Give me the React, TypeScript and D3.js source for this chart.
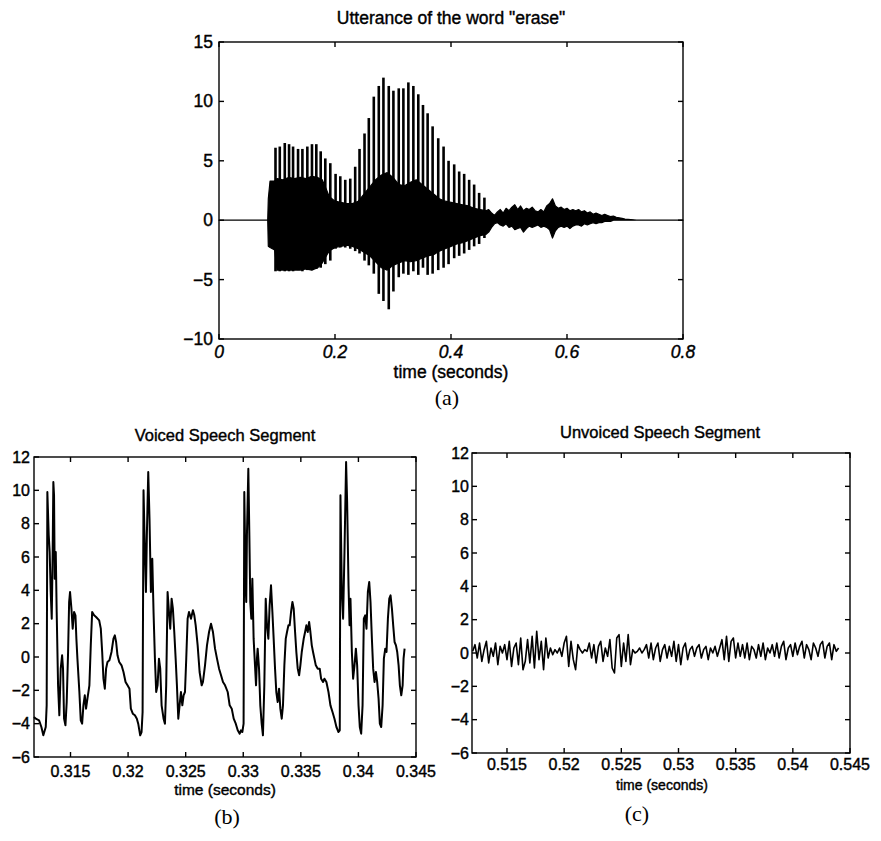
import React from "react";
import * as d3 from "d3";

// (a) the whole utterance ------------------------------------------------
const uttTicksX = [0, 0.2, 0.4, 0.6, 0.8];
const uttTicksY = [-10, -5, 0, 5, 10, 15];

// [time, upper, lower] of the dense part of the trace
const uttBody: [number, number, number][] = [
  [0, 0, 0], [0.084, 0, 0], [0.085, 1.8, -2.2], [0.088, 3.3, -2.3], [0.096, 3.3, -2.5],
  [0.1, 3.5, -4.2], [0.11, 3.4, -4.2], [0.12, 3.6, -4.2], [0.13, 3.5, -4.2], [0.14, 3.6, -4.2],
  [0.15, 3.5, -4.1], [0.16, 3.7, -4.2], [0.17, 3.6, -4.0], [0.178, 3.4, -3.6], [0.185, 2.6, -3.0],
  [0.19, 2.0, -2.6], [0.2, 1.6, -2.3], [0.21, 1.5, -2.2], [0.22, 1.4, -2.1], [0.23, 1.4, -2.2],
  [0.24, 1.6, -2.4], [0.25, 2.2, -2.7], [0.26, 2.8, -3.0], [0.27, 3.4, -3.5], [0.28, 3.8, -4.0],
  [0.29, 4.0, -4.2], [0.3, 3.6, -3.8], [0.31, 3.0, -3.6], [0.32, 2.9, -3.4], [0.33, 3.2, -3.5],
  [0.34, 3.4, -3.4], [0.35, 3.0, -3.2], [0.36, 2.6, -3.0], [0.37, 2.2, -2.9], [0.38, 1.8, -2.6],
  [0.39, 1.6, -2.4], [0.4, 1.5, -2.2], [0.41, 1.4, -2.0], [0.42, 1.3, -1.9], [0.43, 1.2, -1.7],
  [0.44, 1.0, -1.5], [0.45, 0.9, -1.3], [0.46, 0.8, -1.2], [0.465, 0.9, -1.0],
  [0.47, 0.6, -0.6], [0.475, 0.4, -0.3], [0.48, 0.7, -0.2], [0.485, 0.9, -0.4], [0.49, 0.6, -0.5],
  [0.495, 1.0, -0.3], [0.5, 0.8, -0.6], [0.505, 1.1, -0.5], [0.51, 1.3, -0.8], [0.515, 0.9, -0.7],
  [0.52, 1.2, -0.6], [0.525, 0.8, -1.0], [0.53, 1.0, -0.7], [0.535, 0.9, -0.5], [0.54, 1.1, -0.6],
  [0.545, 0.8, -0.5], [0.55, 0.7, -0.4], [0.555, 0.9, -0.6], [0.56, 0.7, -0.5], [0.565, 1.2, -0.6],
  [0.57, 1.4, -0.8], [0.575, 1.8, -1.5], [0.58, 1.2, -0.9], [0.585, 1.0, -0.6], [0.59, 1.1, -0.5],
  [0.595, 0.9, -0.6], [0.6, 1.0, -0.5], [0.605, 0.8, -0.7], [0.61, 0.9, -0.5], [0.615, 0.8, -0.4],
  [0.62, 0.9, -0.4], [0.625, 0.7, -0.5], [0.63, 0.8, -0.3], [0.635, 0.6, -0.4], [0.64, 0.7, -0.3],
  [0.645, 0.5, -0.2], [0.65, 0.6, -0.3], [0.655, 0.5, -0.2], [0.66, 0.4, -0.2], [0.665, 0.5, -0.1],
  [0.67, 0.4, -0.1], [0.675, 0.3, -0.1], [0.68, 0.35, 0], [0.685, 0.25, 0], [0.69, 0.2, 0],
  [0.695, 0.15, 0], [0.7, 0.1, 0], [0.71, 0.05, 0], [0.72, 0, 0], [0.8, 0, 0],
];

// [time, peak, trough] of each pitch pulse
const uttPulses: [number, number, number][] = [
  [0.0974, 6.1, -4.3], [0.1048, 6.2, -4.3], [0.1134, 6.5, -4.3], [0.1208, 6.4, -4.3],
  [0.1277, 6.2, -4.3], [0.1363, 6.0, -4.2], [0.1438, 6.0, -4.3], [0.1523, 6.2, -4.2],
  [0.1603, 6.4, -4.2], [0.1678, 6.4, -4.1], [0.1753, 5.8, -4.0], [0.1833, 5.2, -3.7],
  [0.1919, 4.8, -3.4], [0.201, 3.9, -2.4], [0.2091, 3.7, -2.3], [0.2177, 3.4, -2.3],
  [0.2263, 3.5, -2.4], [0.2348, 4.5, -2.6], [0.2423, 6.0, -2.8], [0.2509, 7.3, -3.4],
  [0.2583, 8.6, -3.8], [0.2669, 10.4, -4.5], [0.2755, 11.3, -6.2], [0.2835, 12.0, -6.8],
  [0.2927, 11.3, -7.5], [0.3007, 10.9, -6.0], [0.3099, 11.1, -4.8], [0.3179, 11.1, -4.5],
  [0.3265, 11.6, -4.6], [0.3351, 11.3, -4.3], [0.3436, 10.6, -4.6], [0.3517, 9.7, -4.0],
  [0.3597, 9.0, -4.6], [0.3683, 7.9, -4.5], [0.378, 6.9, -4.2], [0.3872, 6.2, -4.0],
  [0.3958, 5.0, -3.7], [0.4055, 4.7, -3.2], [0.4141, 4.1, -3.0], [0.4227, 3.9, -2.8],
  [0.4313, 3.4, -2.5], [0.4399, 3.0, -2.2], [0.4485, 2.3, -2.0], [0.4576, 1.9, -1.5],
];

// (b) voiced segment ------------------------------------------------------
const voicedTicksX = [0.315, 0.32, 0.325, 0.33, 0.335, 0.34, 0.345];
const segTicksY = [-6, -4, -2, 0, 2, 4, 6, 8, 10, 12];

// [time, amplitude]
const voiced: [number, number][] = [
  [0.31183, -3.6], [0.31198, -3.7], [0.31227, -3.8], [0.31247, -4.2], [0.31264, -4.7], [0.31285, -4.2],
  [0.31293, -2.9], [0.31299, 9.9], [0.31311, 7.3], [0.31319, 6.3], [0.31328, 3.9], [0.31337, 2.3],
  [0.31345, 6.3], [0.31351, 10.5], [0.31357, 9.7], [0.31363, 4.7], [0.31372, 6.3], [0.3138, 2.7],
  [0.31392, -1.7], [0.31403, -3.5], [0.31415, -0.7], [0.31427, 0.1], [0.31435, -0.7], [0.31444, -3.7],
  [0.31456, -4.1], [0.31467, -2.7], [0.31479, 0.3], [0.31488, 3.3], [0.31496, 3.9], [0.31508, 2.9],
  [0.31519, 1.7], [0.31531, 2.7], [0.31543, 2.5], [0.31551, 1.1], [0.3156, -0.1], [0.31577, -2.1],
  [0.31589, -3.8], [0.31601, -4.0], [0.31612, -2.9], [0.31624, -2.3], [0.31635, -3.1], [0.31647, -2.5],
  [0.31664, -1.7], [0.31676, 0.7], [0.31688, 2.7], [0.31705, 2.5], [0.31722, 2.4], [0.31749, 2.2],
  [0.31763, 1.7], [0.31775, 0.3], [0.31786, -1.3], [0.31798, -1.9], [0.31809, -0.7], [0.31821, -0.3],
  [0.31838, -0.2], [0.31856, 0.3], [0.31873, 1.1], [0.31885, 1.3], [0.31896, 0.9], [0.31908, 0.1],
  [0.31923, -0.3], [0.31943, -0.5], [0.3196, -0.9], [0.31978, -1.5], [0.31995, -1.7], [0.32012, -1.9],
  [0.32024, -3.1], [0.32041, -3.4], [0.32059, -3.5], [0.32076, -3.7], [0.32088, -4.0], [0.32105, -4.7],
  [0.32117, -4.5], [0.32126, -3.3],
  [0.32134, 10.0], [0.32146, 6.3], [0.32155, 3.9], [0.32163, 7.3], [0.32175, 11.1], [0.32186, 8.3],
  [0.32198, 3.9], [0.3221, 5.9], [0.32221, 2.7], [0.32233, -0.1], [0.32244, -2.1], [0.32256, -1.7],
  [0.32268, -0.1], [0.32279, -0.7], [0.32291, -2.9], [0.32308, -3.7], [0.3232, -4.0], [0.32331, -1.7],
  [0.32343, 3.9], [0.32355, 2.7], [0.32366, 1.7], [0.32378, 3.5], [0.32389, 2.9], [0.32401, 1.5],
  [0.32413, -0.1], [0.32424, -1.7], [0.32436, -3.7], [0.32447, -2.9], [0.32459, -2.1], [0.32471, -2.9],
  [0.32482, -2.3], [0.32494, -2.1], [0.32505, -0.1], [0.32517, 2.3], [0.32529, 2.7], [0.32546, 2.3],
  [0.32563, 2.8], [0.32575, 2.5], [0.32587, 1.9], [0.32604, 0.7], [0.32621, -0.9], [0.32639, -1.7],
  [0.3265, -1.5], [0.32668, -0.5], [0.32685, 0.7], [0.32703, 1.5], [0.3272, 2.0], [0.32737, 1.5],
  [0.32755, 0.5], [0.32772, -0.1], [0.3279, -0.7], [0.32807, -1.1], [0.32824, -1.5], [0.32842, -1.7],
  [0.32865, -2.1], [0.32882, -2.9], [0.329, -3.1], [0.32917, -3.7], [0.32935, -4.0], [0.32952, -4.4],
  [0.32969, -4.6], [0.3298, -4.4], [0.32992, -4.5], [0.33003, -4.0],
  [0.33009, 9.9], [0.33021, 4.3], [0.33026, 3.3], [0.33032, 7.3], [0.33044, 11.3], [0.33053, 7.3],
  [0.33061, 3.3], [0.3307, 2.3], [0.33079, 4.7], [0.3309, 1.1], [0.33102, -0.5], [0.33111, -1.7],
  [0.33119, -0.1], [0.33125, 0.5], [0.33137, -0.7], [0.33148, -2.9], [0.3316, -4.0], [0.33171, -4.7],
  [0.33183, -1.7], [0.33195, 3.5], [0.33206, 1.9], [0.33218, 1.1], [0.33229, 3.1], [0.33241, 4.3],
  [0.33253, 2.7], [0.33264, 1.1], [0.33276, -0.7], [0.33287, -2.1], [0.33299, -2.7], [0.33311, -1.9],
  [0.33322, -3.1], [0.33334, -3.7], [0.33345, -2.9], [0.33357, -0.5], [0.33369, 1.1], [0.3338, 1.5],
  [0.33392, 1.9], [0.33403, 1.9], [0.33415, 2.7], [0.33427, 3.3], [0.33438, 2.9], [0.3345, 1.5],
  [0.33461, 0.3], [0.33473, -0.7], [0.33485, -1.1], [0.33496, -0.5], [0.33508, 0.3], [0.33525, 1.1],
  [0.33537, 1.5], [0.33548, 1.9], [0.3356, 1.5], [0.33572, 2.1], [0.33583, 1.5], [0.33595, 0.7],
  [0.33606, 0.3], [0.33618, -0.1], [0.3363, -0.5], [0.33647, -0.7], [0.33664, -0.7], [0.33676, -1.3],
  [0.33693, -1.5], [0.33705, -1.3], [0.33722, -1.5], [0.3374, -2.1], [0.33757, -2.9], [0.33775, -3.3],
  [0.33792, -3.7], [0.33809, -4.2], [0.33827, -4.5], [0.33838, -4.4],
  [0.33844, 9.7], [0.33856, 3.9], [0.33867, 2.3], [0.33879, 6.3], [0.33893, 11.7], [0.33902, 9.3],
  [0.33914, 4.3], [0.33923, 1.9], [0.33931, 3.5], [0.33943, 0.3], [0.33954, -1.3], [0.33966, -0.5],
  [0.33978, 0.5], [0.33989, -0.5], [0.34001, -2.9], [0.34012, -4.2], [0.34024, -4.6], [0.34036, -2.9],
  [0.34047, 2.3], [0.34059, 2.5], [0.3407, 1.7], [0.34082, 3.9], [0.34094, 4.5], [0.34105, 3.3],
  [0.34117, 1.1], [0.34128, -0.7], [0.3414, -1.5], [0.34152, -0.9], [0.34163, -1.5], [0.34175, -2.5],
  [0.34186, -4.0], [0.34198, -4.2], [0.3421, -2.9], [0.34221, -0.1], [0.34233, 0.5], [0.34244, 0.3],
  [0.34256, 2.3], [0.34268, 3.5], [0.34279, 3.7], [0.34291, 2.9], [0.34302, 1.9], [0.34314, 0.9],
  [0.34326, 0.7], [0.34337, 0.3], [0.34349, -0.5], [0.3436, -1.7], [0.34372, -2.3], [0.34384, -1.7],
  [0.34392, -0.1], [0.34401, 0.5],
];

// (c) unvoiced segment ----------------------------------------------------
const unvoicedTicksX = [0.515, 0.52, 0.525, 0.53, 0.535, 0.54, 0.545];
const unvoicedStart = 0.512; // seconds, first sample
const unvoicedStep = 0.0002; // seconds between samples
const unvoiced = [
  0.1, 0.5, -0.3, 0.6, -0.5, 0.2, 0.7, -0.6, 0.3, -0.2, 0.6, -0.7, 0.4, 0.0, 0.5, -0.4, 0.7, -0.8, 0.3, 0.6,
  -0.7, 0.9, -1.0, -0.5, 0.8, -0.6, 1.0, -0.9, 1.3, -0.4, 0.7, -1.0, 0.9, -0.3,
  0.3, -0.1, 0.2, 0.0, 0.3, -0.2,
  0.6, 1.0, -0.8, 0.7, -0.4, -1.0, 0.5,
  0.2, 0.0, 0.2, 0.1,
  0.6, -0.3, 0.5, -0.6, 0.4, 0.7, -0.5, 0.3, -0.2,
  0.8, -0.9, -1.2, 0.9, 1.1, -0.8, 0.6, -0.5, 1.1, -0.7,
  0.2, 0.0, 0.1, 0.3, 0.0, 0.2,
  0.5, -0.3, 0.6, -0.4, 0.3, 0.6, -0.5, 0.2, 0.5, -0.3, 0.4, -0.2,
  0.7, -0.5, 0.5, -0.7, 0.3, 0.6, -0.4, 0.2,
  0.4, -0.2, 0.3, 0.5, -0.3, 0.2, 0.4, -0.4, 0.3, 0.0, 0.4, -0.2, 0.3,
  0.8, -0.4, 1.0, -0.5, 0.7, 0.9, -0.3, 0.6, -0.2,
  0.5, -0.3, 0.6, -0.4, 0.4, 0.2, -0.3, 0.5, -0.2, 0.6, -0.4, 0.3, 0.0,
  0.5, -0.2, 0.6, -0.3, 0.4, 0.7, -0.4, 0.3, 0.5, -0.2, 0.6, -0.1, 0.4, 0.7, -0.3,
  0.5, 0.2, -0.4, 0.6, 0.3, -0.2, 0.5, 0.7, -0.3, 0.4, 0.6, -0.4, 0.5, 0.1, 0.3,
];

const FONT = "'Liberation Sans', Arial, Helvetica, sans-serif";
const SERIF = "'Liberation Serif', 'DejaVu Serif', serif";
// the scanned lettering is heavier than a plain regular face
const INK = { fill: "#000", stroke: "#000", strokeWidth: 0.4 };

const fmt = (v: number) => (v < 0 ? "\u2212" + Math.abs(v) : String(v));

type Scale = d3.ScaleLinear<number, number>;

function Axes(props: {
  x: Scale;
  y: Scale;
  xTicks: number[];
  yTicks: number[];
  fontSize: number;
  xGap: number;
  yGap: number;
  italicX?: boolean;
}) {
  const { x, y, xTicks, yTicks, fontSize, xGap, yGap, italicX } = props;
  const [l, r] = x.range();
  const [b, t] = y.range();
  const tl = 5;
  return (
    <g>
      <g stroke="#000" strokeWidth={1.4} fill="none">
        <rect x={l} y={t} width={r - l} height={b - t} />
        {xTicks.map((v) => (
          <g key={"xt" + v}>
            <line x1={x(v)} x2={x(v)} y1={b} y2={b - tl} />
            <line x1={x(v)} x2={x(v)} y1={t} y2={t + tl} />
          </g>
        ))}
        {yTicks.map((v) => (
          <g key={"yt" + v}>
            <line x1={l} x2={l + tl} y1={y(v)} y2={y(v)} />
            <line x1={r} x2={r - tl} y1={y(v)} y2={y(v)} />
          </g>
        ))}
      </g>
      <g {...INK} fontFamily={FONT} fontSize={fontSize}>
        {xTicks.map((v) => (
          <text
            key={"xl" + v}
            x={x(v)}
            y={b + xGap}
            textAnchor="middle"
            dominantBaseline="central"
            fontStyle={italicX ? "italic" : "normal"}
          >
            {fmt(v)}
          </text>
        ))}
        {yTicks.map((v) => (
          <text key={"yl" + v} x={l - yGap} y={y(v)} textAnchor="end" dominantBaseline="central">
            {fmt(v)}
          </text>
        ))}
      </g>
    </g>
  );
}

function Label(props: { x: number; y: number; size: number; serif?: boolean; children: React.ReactNode }) {
  return (
    <text
      x={props.x}
      y={props.y}
      textAnchor="middle"
      dominantBaseline="central"
      fontFamily={props.serif ? SERIF : FONT}
      fontSize={props.size}
      {...(props.serif ? { fill: "#000" } : INK)}
    >
      {props.children}
    </text>
  );
}

export default function App() {
  // (a)
  const xa = d3.scaleLinear().domain([0, 0.8]).range([219, 683]);
  const ya = d3.scaleLinear().domain([-10, 15]).range([339, 42]);
  const body = d3
    .area<[number, number, number]>()
    .x((d) => xa(d[0]))
    .y0((d) => ya(d[2]))
    .y1((d) => ya(d[1]))(uttBody);

  // (b)
  const xb = d3.scaleLinear().domain([0.31183, 0.345]).range([34, 416]);
  const yb = d3.scaleLinear().domain([-6, 12]).range([757, 457]);
  const voicedPath = d3
    .line<[number, number]>()
    .x((d) => xb(d[0]))
    .y((d) => yb(d[1]))(voiced);

  // (c)
  const xc = d3.scaleLinear().domain([0.51194, 0.545]).range([472, 850]);
  const yc = d3.scaleLinear().domain([-6, 12]).range([753, 453]);
  const unvoicedPath = d3
    .line<number>()
    .x((_, i) => xc(unvoicedStart + i * unvoicedStep))
    .y((d) => yc(d))(unvoiced);

  return (
    <svg
      width={881}
      height={841}
      style={{ position: "absolute", left: 0, top: 0, background: "#fff" }}
    >
      <rect width={881} height={841} fill="#fff" />

      {/* (a) */}
      <Label x={451} y={18} size={17.5}>Utterance of the word "erase"</Label>
      <path d={body || ""} fill="#000" stroke="#000" strokeWidth={1.2} strokeLinejoin="round" />
      <g stroke="#000" strokeWidth={2.6}>
        {uttPulses.map((p) => (
          <line key={p[0]} x1={xa(p[0])} x2={xa(p[0])} y1={ya(p[1])} y2={ya(p[2])} />
        ))}
      </g>
      <Axes x={xa} y={ya} xTicks={uttTicksX} yTicks={uttTicksY} fontSize={17.5} xGap={13} yGap={6} italicX />
      <Label x={451} y={372} size={17.5}>time (seconds)</Label>
      <Label x={447} y={397} size={22} serif>(a)</Label>

      {/* (b) */}
      <Label x={225} y={435} size={16.5}>Voiced Speech Segment</Label>
      <path d={voicedPath || ""} fill="none" stroke="#000" strokeWidth={2} strokeLinejoin="round" />
      <Axes x={xb} y={yb} xTicks={voicedTicksX} yTicks={segTicksY} fontSize={16} xGap={14} yGap={4} />
      <Label x={225} y={789} size={15.5}>time (seconds)</Label>
      <Label x={227} y={816} size={22} serif>(b)</Label>

      {/* (c) */}
      <Label x={660} y={432} size={16.5}>Unvoiced Speech Segment</Label>
      <path d={unvoicedPath || ""} fill="none" stroke="#000" strokeWidth={1.6} strokeLinejoin="round" />
      <Axes x={xc} y={yc} xTicks={unvoicedTicksX} yTicks={segTicksY} fontSize={16} xGap={11} yGap={3} />
      <Label x={662} y={785} size={14}>time (seconds)</Label>
      <Label x={637} y={813} size={22} serif>(c)</Label>
    </svg>
  );
}
